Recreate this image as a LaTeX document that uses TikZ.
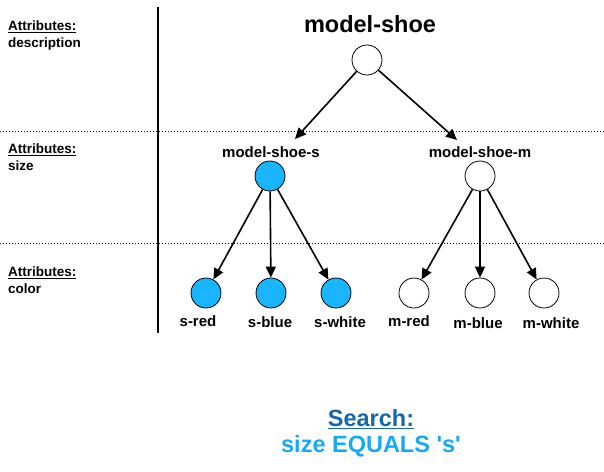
\documentclass[tikz,border=0pt]{standalone}
\usepackage{fontspec}
\setmainfont{Liberation Sans}
\usepackage{tikz}
\usetikzlibrary{arrows.meta}
\definecolor{shoeblue}{HTML}{1AB4FF}
\definecolor{searchdark}{HTML}{1767A8}
\definecolor{searchlight}{HTML}{19A8F2}
\tikzset{
  attr/.style={circle, draw, line width=0.8pt, minimum size=30pt, inner sep=0pt},
  picked/.style={attr, fill=shoeblue},
  lbl/.style={font=\bfseries\fontsize{15}{17}\selectfont, inner sep=1pt},
  side/.style={font=\bfseries\fontsize{13.5}{17}\selectfont, align=left, anchor=north west, inner sep=0pt},
  big/.style={font=\bfseries\fontsize{23.5}{27}\selectfont},
  arr/.style={-{Triangle[width=10pt,length=11pt]}, line width=1.6pt},
  sep/.style={line width=1pt, dash pattern=on 1pt off 2pt},
}
\begin{document}
\begin{tikzpicture}[x=1pt, y=-1pt]
\useasboundingbox (0,0) rectangle (604,471);
% level separators
\draw[line width=1.6pt] (158,7) -- (158,333);
\draw[sep] (0,131) -- (604,131);
\draw[sep] (0,243) -- (604,243);
%
\node[side] at (8,21) {\underline{Attributes:}\\description};
\node[side] at (8,144) {\underline{Attributes:}\\size};
\node[side] at (8,267) {\underline{Attributes:}\\color};
% description level
\node[big] (roottxt) at (370,24) {model-shoe};
\node[attr] (root) at (367,60) {};
% size level
\node[lbl] (stxt) at (271,152) {model-shoe-s};
\node[picked] (s) at (270,176) {};
\node[lbl] (mtxt) at (480,152) {model-shoe-m};
\node[attr] (m) at (480,176) {};
\coordinate (stip) at (295,139);
\coordinate (mtip) at (457,140);
\draw[arr] (root) -- (stip);
\draw[arr] (root) -- (mtip);
% color level
\foreach \nm/\x/\sty in {sred/206/picked, sblue/271/picked, swhite/336/picked,
                         mred/414/attr, mblue/480/attr, mwhite/544/attr}
  \node[\sty] (\nm) at (\x,293) {};
\node[lbl] at (198,321) {s-red};
\node[lbl] at (270,322) {s-blue};
\node[lbl] at (340,322) {s-white};
\node[lbl] at (409,321) {m-red};
\node[lbl] at (478,323) {m-blue};
\node[lbl] at (551,323) {m-white};
\foreach \c in {sred, sblue, swhite}
  \draw[arr] (s) -- (\c);
\foreach \c in {mred, mblue, mwhite}
  \draw[arr] (m) -- (\c);
% search
\node[big, text=searchdark] (search) at (371,419) {\underline{Search:}};
\node[big, text=searchlight] (query) at (371,446) {size EQUALS \textquotesingle s\textquotesingle};
\end{tikzpicture}
\end{document}
